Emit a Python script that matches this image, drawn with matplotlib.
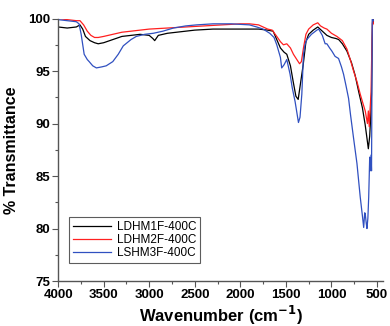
import matplotlib
matplotlib.use("Agg")
import matplotlib.pyplot as plt
from matplotlib.ticker import MultipleLocator

plt.rcParams["font.family"] = ["Liberation Sans", "DejaVu Sans"]

# LDHM1F-400C
wn_1 = [4000, 3900, 3800, 3760, 3730, 3700, 3650, 3600, 3560, 3500, 3400, 3300, 3200, 3100,
        3000, 2960, 2940, 2900, 2800, 2700, 2500, 2300, 2100, 1900, 1800, 1700, 1640, 1600,
        1560, 1520, 1490, 1450, 1420, 1390, 1365, 1340, 1310, 1280, 1250, 1200, 1150, 1100,
        1050, 1000, 950, 920, 880, 830, 780, 740, 700, 660, 630, 610, 595, 580, 570, 560,
        550, 545, 540]
t_1 = [99.2, 99.1, 99.2, 99.4, 99.0, 98.3, 97.9, 97.7, 97.6, 97.7, 98.0, 98.3, 98.4, 98.5,
       98.4, 98.1, 97.9, 98.4, 98.6, 98.7, 98.9, 99.0, 99.0, 99.0, 99.0, 98.9, 98.8, 98.0,
       97.2, 96.8, 96.6, 95.5, 94.0, 92.6, 92.3, 93.8, 95.6, 97.8, 98.5, 98.9, 99.2, 98.8,
       98.4, 98.2, 98.1, 98.0, 97.6, 96.9, 95.8, 94.6, 93.0, 91.5, 89.9, 88.6, 87.6, 88.8,
       90.5, 92.8, 99.5, 100.0, 99.6]

# LDHM2F-400C
wn_2 = [4000, 3900, 3800, 3760, 3720, 3680, 3640, 3600, 3560, 3500, 3400, 3300, 3200, 3000,
        2800, 2600, 2400, 2200, 2000, 1900, 1800, 1700, 1650, 1600, 1560, 1527, 1490, 1450,
        1417, 1380, 1350, 1330, 1307, 1280, 1250, 1200, 1150, 1120, 1080, 1050, 1000, 940,
        880, 830, 790, 757, 720, 684, 650, 629, 615, 605, 595, 585, 575, 565, 555, 548, 540]
t_2 = [100.0, 99.9, 99.8, 99.8, 99.4, 98.8, 98.4, 98.2, 98.2, 98.3, 98.5, 98.7, 98.8, 99.0,
       99.1, 99.2, 99.3, 99.4, 99.5, 99.5, 99.4, 99.0, 98.9, 98.3, 97.8, 97.5, 97.6, 97.2,
       96.6, 96.1, 95.7, 95.9, 97.2, 98.5, 99.0, 99.4, 99.6, 99.3, 99.1, 99.0, 98.6, 98.3,
       97.9, 97.1, 96.0, 95.0, 94.0, 92.8, 91.8, 91.2, 90.5, 90.0, 91.2, 89.7, 91.5, 93.0,
       98.0, 100.0, 99.5]

# LSHM3F-400C
wn_3 = [4000, 3900, 3800, 3770, 3747, 3714, 3680, 3659, 3620, 3580, 3520, 3472, 3400, 3340,
        3285, 3200, 3142, 3050, 2955, 2850, 2734, 2600, 2480, 2300, 2100, 1900, 1820, 1750,
        1677, 1630, 1600, 1560, 1546, 1520, 1490, 1454, 1430, 1399, 1375, 1362, 1345, 1325,
        1307, 1290, 1270, 1220, 1160, 1140, 1100, 1069, 1050, 1020, 995, 960, 922, 890, 867,
        840, 812, 790, 757, 720, 684, 660, 646, 635, 629, 618, 610, 600, 591, 580, 574, 565,
        560, 552, 545, 540]
t_3 = [99.9, 99.8, 99.7, 99.5, 98.5, 96.6, 96.1, 95.9, 95.5, 95.3, 95.4, 95.5, 95.9, 96.6,
       97.4, 98.0, 98.3, 98.5, 98.6, 98.8, 99.1, 99.3, 99.4, 99.5, 99.5, 99.4, 99.2, 99.0,
       98.6, 98.2, 97.5, 96.3, 95.3, 95.6, 96.1, 94.7, 93.4, 92.1, 90.8, 90.1, 90.6, 92.8,
       96.6, 97.5, 98.0, 98.5, 98.9, 99.0, 98.4, 97.6, 97.6, 97.2, 96.9, 96.4, 96.2, 95.4,
       94.7, 93.6, 92.4, 90.8, 88.6, 86.2, 83.0, 81.2, 80.1, 81.5, 81.4, 80.5, 80.0, 81.0,
       83.0, 86.8, 85.5, 87.0, 85.5, 100.0, 100.0, 99.8]

names = ["LDHM1F-400C", "LDHM2F-400C", "LSHM3F-400C"]
colors = ["#000000", "#ff2020", "#3050c0"]

fig = plt.figure(figsize=(3.9, 3.26), dpi=100)
ax = fig.add_axes([0.149, 0.138, 0.834, 0.805])

for wn, t, name, c in zip([wn_1, wn_2, wn_3], [t_1, t_2, t_3], names, colors):
    ax.plot(wn, t, color=c, lw=0.9, label=name)

ax.set_xlim(4000, 430)
ax.set_ylim(75, 100)
ax.xaxis.set_major_locator(MultipleLocator(500))
ax.xaxis.set_minor_locator(MultipleLocator(250))
ax.yaxis.set_major_locator(MultipleLocator(5))
ax.yaxis.set_minor_locator(MultipleLocator(2.5))

for s in ["top", "right"]:
    ax.spines[s].set_visible(False)
for s in ["left", "bottom"]:
    ax.spines[s].set_color("#555555")
    ax.spines[s].set_linewidth(1.0)

ax.tick_params(which="major", direction="out", length=4, width=0.8, color="#555555",
               labelsize=9.5, pad=2)
ax.tick_params(which="minor", direction="out", length=2.5, width=0.8, color="#555555")
for lab in ax.get_xticklabels() + ax.get_yticklabels():
    lab.set_fontweight("bold")

ax.set_xlabel("Wavenumber (cm$^{\\mathbf{-1}}$)", fontsize=12, fontweight="bold", labelpad=2)
ax.set_ylabel("% Transmittance", fontsize=11.5, fontweight="bold", labelpad=6)

leg = ax.legend(loc="lower left", bbox_to_anchor=(0.015, 0.045), fontsize=8.5,
                frameon=True, fancybox=False, handlelength=3.2, borderpad=0.35,
                labelspacing=0.1, handletextpad=0.5)
leg.get_frame().set_edgecolor("#333333")
leg.get_frame().set_linewidth(0.8)

fig.savefig("out.png", dpi=100)
